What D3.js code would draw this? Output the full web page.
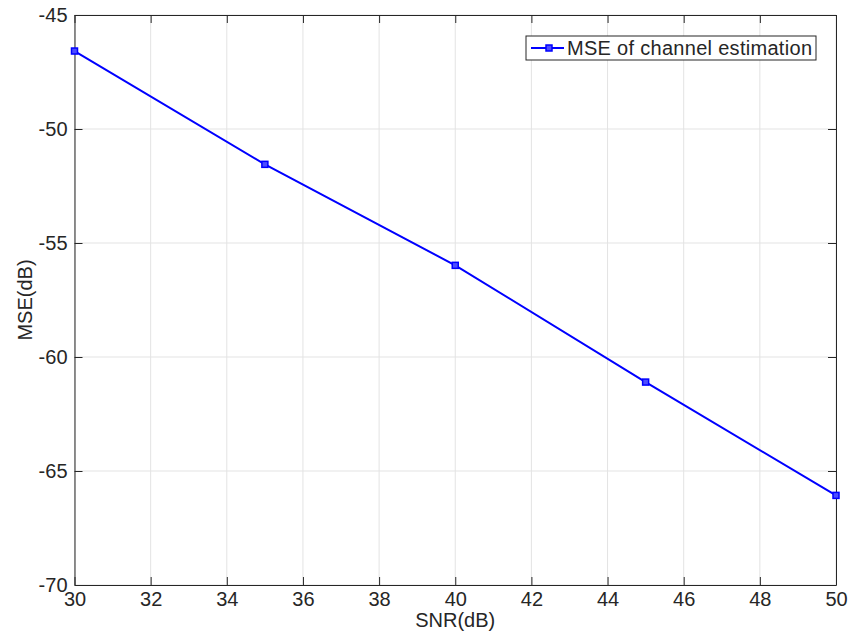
<!DOCTYPE html>
<html>
<head>
<meta charset="utf-8">
<script src="https://cdn.jsdelivr.net/npm/d3@7"></script>
<style>
  body { margin: 0; background: #fff; }
  text { font-family: "Liberation Sans", Arial, Helvetica, sans-serif; fill: #262626; }
</style>
</head>
<body>
<div id="chart"></div>
<script>
// data
const snr = [30, 35, 40, 45, 50];
const mse = [-46.58, -51.55, -55.98, -61.10, -66.07];
const xTicks = [30, 32, 34, 36, 38, 40, 42, 44, 46, 48, 50];
const yTicks = [-70, -65, -60, -55, -50, -45];
const seriesName = "MSE of channel estimation";

const width = 850, height = 635;
const margin = {left: 74.5, right: 14, top: 15, bottom: 50};
const plotW = width - margin.left - margin.right;
const plotH = height - margin.top - margin.bottom;
const fontSize = "20px";

const svg = d3.select("#chart")
    .append("svg")
    .attr("width", width)
    .attr("height", height);

const x = d3.scaleLinear().domain([30, 50]).range([0, plotW]);
const y = d3.scaleLinear().domain([-70, -45]).range([plotH, 0]);

const g = svg.append("g")
    .attr("transform", `translate(${margin.left},${margin.top})`);

// grid
g.selectAll(".gx")
    .data(xTicks)
    .enter()
    .append("line")
    .attr("x1", d => x(d)).attr("x2", d => x(d))
    .attr("y1", 0).attr("y2", plotH)
    .attr("stroke", "#e3e3e3").attr("stroke-width", 1);

g.selectAll(".gy")
    .data(yTicks)
    .enter()
    .append("line")
    .attr("x1", 0).attr("x2", plotW)
    .attr("y1", d => y(d)).attr("y2", d => y(d))
    .attr("stroke", "#e3e3e3").attr("stroke-width", 1);

// axes (ticks point inward, box style)
const tickLen = 8;
const axisColor = "#262626";
const fmt = d => String(d); // plain hyphen minus like the original

function styleAxis(sel) {
    sel.selectAll("path").attr("stroke", axisColor).attr("stroke-width", 1);
    sel.selectAll("line").attr("stroke", axisColor).attr("stroke-width", 1);
    sel.selectAll("text").attr("font-size", fontSize).attr("fill", axisColor)
        .style("font-family", "'Liberation Sans', Arial, sans-serif");
}

const xAxis = g.append("g")
    .attr("transform", `translate(0,${plotH})`)
    .call(d3.axisBottom(x).tickValues(xTicks).tickFormat(fmt).tickSize(-tickLen).tickSizeOuter(0).tickPadding(7));
styleAxis(xAxis);

const xTop = g.append("g")
    .call(d3.axisTop(x).tickValues(xTicks).tickSize(-tickLen).tickSizeOuter(0).tickFormat(""));
styleAxis(xTop);

const yAxis = g.append("g")
    .call(d3.axisLeft(y).tickValues(yTicks).tickFormat(fmt).tickSize(-tickLen).tickSizeOuter(0).tickPadding(7));
styleAxis(yAxis);

const yRight = g.append("g")
    .attr("transform", `translate(${plotW},0)`)
    .call(d3.axisRight(y).tickValues(yTicks).tickSize(-tickLen).tickSizeOuter(0).tickFormat(""));
styleAxis(yRight);

// line
const pts = snr.map((d, i) => ({x: d, y: mse[i]}));

g.append("path")
    .datum(pts)
    .attr("fill", "none")
    .attr("stroke", "#0000ff")
    .attr("stroke-width", 2)
    .attr("d", d3.line().x(d => x(d.x)).y(d => y(d.y)));

g.selectAll(".mk")
    .data(pts)
    .enter()
    .append("rect")
    .attr("x", d => x(d.x) - 3)
    .attr("y", d => y(d.y) - 3)
    .attr("width", 6).attr("height", 6)
    .attr("fill", "#4d4dff")
    .attr("stroke", "#0000ff")
    .attr("stroke-width", 1.5);

// axis labels
svg.append("text")
    .attr("x", margin.left + plotW / 2)
    .attr("y", 627)
    .attr("text-anchor", "middle")
    .attr("font-size", fontSize)
    .text("SNR(dB)");

svg.append("text")
    .attr("transform", "translate(32,300) rotate(-90)")
    .attr("text-anchor", "middle")
    .attr("font-size", fontSize)
    .text("MSE(dB)");

// legend
const leg = svg.append("g").attr("transform", "translate(526,36)");
leg.append("rect")
    .attr("width", 290).attr("height", 24)
    .attr("fill", "#fff")
    .attr("stroke", axisColor).attr("stroke-width", 1);
leg.append("line")
    .attr("x1", 5).attr("x2", 38)
    .attr("y1", 12).attr("y2", 12)
    .attr("stroke", "#0000ff").attr("stroke-width", 2);
leg.append("rect")
    .attr("x", 20).attr("y", 9)
    .attr("width", 6).attr("height", 6)
    .attr("fill", "#4d4dff")
    .attr("stroke", "#0000ff").attr("stroke-width", 1.5);
leg.append("text")
    .attr("x", 41).attr("y", 19)
    .attr("font-size", fontSize)
    .attr("textLength", 245)
    .attr("lengthAdjust", "spacing")
    .text(seriesName);
</script>
</body>
</html>
